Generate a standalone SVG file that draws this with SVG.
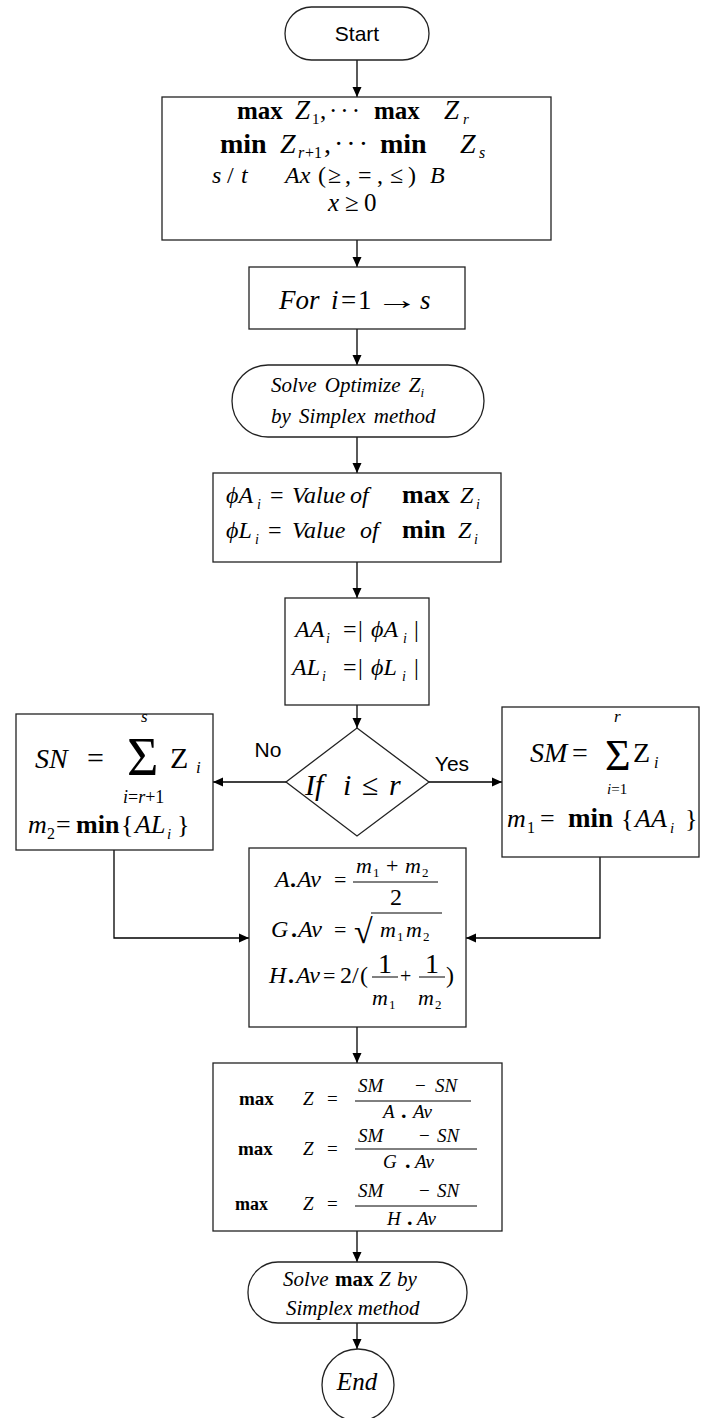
<svg xmlns="http://www.w3.org/2000/svg" width="707" height="1418" viewBox="0 0 707 1418">
<style>
.n{fill:#fff;stroke:#222;stroke-width:1.3}
.c{fill:none;stroke:#000;stroke-width:1.3}
.f{stroke:#000;stroke-width:1}
.m{font-family:"Liberation Serif","Times New Roman",serif;fill:#000}
.i{font-style:italic}
.b{font-weight:bold}
.s{font-family:"Liberation Sans",Arial,sans-serif;fill:#000}
</style>
<defs>
<marker id="ah" markerWidth="10" markerHeight="10" refX="10" refY="5" orient="auto" markerUnits="userSpaceOnUse"><path d="M0,0.5 L10,5 L0,9.5 z" fill="#000"/></marker>
</defs>
<rect width="707" height="1418" fill="#fff"/>
<g id="connectors">
<line class="c" x1="357" y1="60" x2="357" y2="97" marker-end="url(#ah)"/>
<line class="c" x1="357" y1="240" x2="357" y2="267" marker-end="url(#ah)"/>
<line class="c" x1="357" y1="329" x2="357" y2="365" marker-end="url(#ah)"/>
<line class="c" x1="357" y1="437" x2="357" y2="473" marker-end="url(#ah)"/>
<line class="c" x1="357" y1="562" x2="357" y2="598" marker-end="url(#ah)"/>
<line class="c" x1="357" y1="705" x2="357" y2="728" marker-end="url(#ah)"/>
<line class="c" x1="286" y1="782" x2="213" y2="782" marker-end="url(#ah)"/>
<line class="c" x1="429" y1="782" x2="502" y2="782" marker-end="url(#ah)"/>
<polyline class="c" points="114,850 114,938 249,938" marker-end="url(#ah)"/>
<polyline class="c" points="600,857 600,938 466,938" marker-end="url(#ah)"/>
<line class="c" x1="357" y1="1027" x2="357" y2="1063" marker-end="url(#ah)"/>
<line class="c" x1="357" y1="1231" x2="357" y2="1262" marker-end="url(#ah)"/>
<line class="c" x1="357" y1="1323" x2="357" y2="1349" marker-end="url(#ah)"/>
<text class="s" x="268" y="757" font-size="21" text-anchor="middle">No</text>
<text class="s" x="452" y="771" font-size="21" text-anchor="middle">Yes</text>
</g>
<g id="start">
<rect class="n" x="285" y="7" width="144" height="53" rx="26.5"/>
<text class="s" x="357" y="41" font-size="21" text-anchor="middle">Start</text>
</g>
<g id="problem">
<rect class="n" x="162" y="97" width="389" height="143"/>
<text class="m" font-size="25"><tspan x="237" y="119" class="b">max</tspan><tspan x="295" class="i" font-size="27">Z</tspan><tspan x="312" y="124" font-size="15">1</tspan><tspan x="320" y="119">,</tspan><tspan x="329" letter-spacing="3">···</tspan><tspan x="374" class="b">max</tspan><tspan x="444" class="i" font-size="27">Z</tspan><tspan x="463" y="124" class="i" font-size="15">r</tspan><tspan x="220" y="153" class="b" font-size="28">min</tspan><tspan x="280" class="i" font-size="28">Z</tspan><tspan x="298" y="158" class="i" font-size="16">r</tspan><tspan x="305" y="158" font-size="16">+1</tspan><tspan x="324" y="153" font-size="28">,</tspan><tspan x="334" letter-spacing="3" font-size="28">···</tspan><tspan x="380" class="b" font-size="28">min</tspan><tspan x="460" class="i" font-size="28">Z</tspan><tspan x="479" y="158" class="i" font-size="16">s</tspan><tspan x="212" y="183" class="i" font-size="24">s</tspan><tspan x="227" font-size="24">/</tspan><tspan x="241" class="i" font-size="24">t</tspan><tspan x="285" class="i" font-size="24">Ax</tspan><tspan x="318" font-size="24">(</tspan><tspan x="328" font-size="24">≥</tspan><tspan x="345" font-size="24">,</tspan><tspan x="358" font-size="24">=</tspan><tspan x="377" font-size="24">,</tspan><tspan x="390" font-size="24">≤</tspan><tspan x="408" font-size="24">)</tspan><tspan x="430" class="i" font-size="24">B</tspan><tspan x="328" y="211" class="i">x</tspan><tspan x="345">≥</tspan><tspan x="364">0</tspan></text>
</g>
<g id="loop">
<rect class="n" x="249" y="267" width="216" height="62"/>
<text class="m" y="309" font-size="27"><tspan x="279" class="i">For</tspan><tspan x="331" class="i">i</tspan><tspan x="341">=</tspan><tspan x="358">1</tspan><tspan x="420" class="i">s</tspan></text>
<text class="m" font-size="27" transform="translate(375,309) scale(1.6,1)">→</text>
</g>
<g id="solve-opt">
<rect class="n" x="232" y="365" width="252" height="72" rx="36"/>
<text class="m i" font-size="21" word-spacing="3"><tspan x="271" y="392">Solve Optimize Z</tspan><tspan y="397" font-size="13">i</tspan><tspan x="271" y="423">by Simplex method</tspan></text>
</g>
<g id="values">
<rect class="n" x="213" y="473" width="288" height="89"/>
<text class="m" font-size="24"><tspan x="226" y="503" class="i">ϕA</tspan><tspan x="257" y="509" class="i" font-size="14">i</tspan><tspan x="270" y="503">=</tspan><tspan x="292" class="i">Value</tspan><tspan x="350" class="i">of</tspan><tspan x="402" class="b" font-size="26">max</tspan><tspan x="460" class="i">Z</tspan><tspan x="476" y="509" class="i" font-size="14">i</tspan><tspan x="226" y="538" class="i">ϕL</tspan><tspan x="255" y="544" class="i" font-size="14">i</tspan><tspan x="268" y="538">=</tspan><tspan x="292" class="i">Value</tspan><tspan x="360" class="i">of</tspan><tspan x="402" class="b" font-size="26">min</tspan><tspan x="458" class="i">Z</tspan><tspan x="474" y="544" class="i" font-size="14">i</tspan></text>
</g>
<g id="abs">
<rect class="n" x="285" y="598" width="144" height="107"/>
<text class="m" font-size="24"><tspan x="295" y="637" class="i">AA</tspan><tspan x="326" y="643" class="i" font-size="14">i</tspan><tspan x="343" y="637">=</tspan><tspan x="358">|</tspan><tspan x="371" class="i">ϕA</tspan><tspan x="403" y="643" class="i" font-size="14">i</tspan><tspan x="414" y="637">|</tspan><tspan x="292" y="675" class="i">AL</tspan><tspan x="322" y="681" class="i" font-size="14">i</tspan><tspan x="343" y="675">=</tspan><tspan x="358">|</tspan><tspan x="371" class="i">ϕL</tspan><tspan x="402" y="681" class="i" font-size="14">i</tspan><tspan x="414" y="675">|</tspan></text>
</g>
<g id="decision">
<polygon class="n" points="357,728 429,782 357,836 286,782"/>
<text class="m" y="795" font-size="30"><tspan x="305" class="i">If</tspan><tspan x="343" class="i">i</tspan><tspan x="362">≤</tspan><tspan x="389" class="i">r</tspan></text>
</g>
<g id="sn">
<rect class="n" x="16" y="714" width="197" height="136"/>
<text class="m" font-size="28"><tspan x="35" y="768" class="i">SN</tspan><tspan x="87" font-size="30">=</tspan><tspan x="127" y="775" font-size="54">Σ</tspan><tspan x="170" y="768" font-size="30">Z</tspan><tspan x="196" y="773" class="i" font-size="17">i</tspan><tspan x="141" y="722" class="i" font-size="17">s</tspan><tspan x="123" y="803" font-size="18"><tspan class="i">i</tspan>=<tspan class="i">r</tspan>+1</tspan><tspan x="28" y="833" class="i" font-size="26">m</tspan><tspan x="47" y="839" font-size="16">2</tspan><tspan x="56" y="833" font-size="26">=</tspan><tspan x="76" class="b" font-size="26">min</tspan><tspan x="121" font-size="26">{</tspan><tspan x="135" class="i" font-size="26">AL</tspan><tspan x="167" y="839" class="i" font-size="15">i</tspan><tspan x="177" y="833" font-size="26">}</tspan></text>
</g>
<g id="sm">
<rect class="n" x="502" y="707" width="197" height="150"/>
<text class="m" font-size="28"><tspan x="530" y="762" class="i">SM</tspan><tspan x="572">=</tspan><tspan x="605" y="770" font-size="44">Σ</tspan><tspan x="633" y="762">Z</tspan><tspan x="654" y="768" class="i" font-size="16">i</tspan><tspan x="614" y="722" class="i" font-size="17">r</tspan><tspan x="607" y="794" font-size="15"><tspan class="i">i</tspan>=1</tspan><tspan x="507" y="827" class="i" font-size="26">m</tspan><tspan x="527" y="833" font-size="16">1</tspan><tspan x="540" y="827" font-size="26">=</tspan><tspan x="568" class="b" font-size="27">min</tspan><tspan x="621" font-size="26">{</tspan><tspan x="635" class="i" font-size="26">AA</tspan><tspan x="670" y="833" class="i" font-size="15">i</tspan><tspan x="685" y="827" font-size="26">}</tspan></text>
</g>
<g id="averages">
<rect class="n" x="249" y="848" width="217" height="179"/>
<line class="f" x1="353" y1="882" x2="438" y2="882"/>
<line class="f" x1="371" y1="913" x2="442" y2="913"/>
<line class="f" x1="372" y1="977" x2="398" y2="977"/>
<line class="f" x1="419" y1="977" x2="445" y2="977"/>
<text class="m" font-size="24"><tspan x="275" y="887" class="i">A</tspan><tspan x="290" class="b">.</tspan><tspan x="297" class="i">Av</tspan><tspan x="334" font-size="22">=</tspan><tspan x="356" y="873" class="i" font-size="22">m</tspan><tspan x="373" y="877" font-size="13">1</tspan><tspan x="386" y="873" font-size="22">+</tspan><tspan x="405" class="i" font-size="22">m</tspan><tspan x="422" y="877" font-size="13">2</tspan><tspan x="390" y="905">2</tspan><tspan x="271" y="937" class="i">G</tspan><tspan x="291" class="b">.</tspan><tspan x="298" class="i">Av</tspan><tspan x="334" font-size="22">=</tspan><tspan x="354" y="943" font-size="34">√</tspan><tspan x="380" y="937" class="i" font-size="22">m</tspan><tspan x="397" y="941" font-size="13">1</tspan><tspan x="406" y="937" class="i" font-size="22">m</tspan><tspan x="423" y="941" font-size="13">2</tspan><tspan x="269" y="983" class="i">H</tspan><tspan x="288" class="b">.</tspan><tspan x="296" class="i">Av</tspan><tspan x="323" font-size="22">=</tspan><tspan x="340">2</tspan><tspan x="352">/</tspan><tspan x="360">(</tspan><tspan x="400" font-size="20">+</tspan><tspan x="446">)</tspan><tspan x="378" y="973" font-size="28">1</tspan><tspan x="425" font-size="28">1</tspan><tspan x="372" y="1005" class="i" font-size="22">m</tspan><tspan x="389" y="1009" font-size="13">1</tspan><tspan x="418" y="1005" class="i" font-size="22">m</tspan><tspan x="435" y="1009" font-size="13">2</tspan></text>
</g>
<g id="objectives">
<rect class="n" x="213" y="1063" width="289" height="168"/>
<line class="f" x1="355" y1="1101" x2="471" y2="1101"/>
<line class="f" x1="355" y1="1149" x2="477" y2="1149"/>
<line class="f" x1="355" y1="1206" x2="477" y2="1206"/>
<text class="m" font-size="19"><tspan x="239" y="1105" class="b">max</tspan><tspan x="303" class="i">Z</tspan><tspan x="327">=</tspan><tspan x="358" y="1092" class="i">SM</tspan><tspan x="415">−</tspan><tspan x="435" class="i">SN</tspan><tspan x="383" y="1118" class="i">A</tspan><tspan x="401" class="b" font-size="22">.</tspan><tspan x="413" class="i">Av</tspan><tspan x="238" y="1155" class="b">max</tspan><tspan x="303" class="i">Z</tspan><tspan x="327">=</tspan><tspan x="358" y="1142" class="i">SM</tspan><tspan x="419">−</tspan><tspan x="437" class="i">SN</tspan><tspan x="383" y="1168" class="i">G</tspan><tspan x="405" class="b" font-size="22">.</tspan><tspan x="415" class="i">Av</tspan><tspan x="235" y="1210" class="b" font-size="18">max</tspan><tspan x="303" class="i">Z</tspan><tspan x="327">=</tspan><tspan x="358" y="1197" class="i">SM</tspan><tspan x="419">−</tspan><tspan x="437" class="i">SN</tspan><tspan x="387" y="1225" class="i">H</tspan><tspan x="407" class="b" font-size="22">.</tspan><tspan x="417" class="i">Av</tspan></text>
</g>
<g id="solve-max">
<rect class="n" x="248" y="1262" width="219" height="61" rx="30"/>
<text class="m" font-size="21"><tspan x="283" y="1286" class="i">Solve</tspan><tspan x="335" class="b">max</tspan><tspan x="379" class="i">Z</tspan><tspan x="397" class="i">by</tspan><tspan x="286" y="1315" class="i">Simplex method</tspan></text>
</g>
<g id="end">
<circle class="n" cx="358" cy="1385" r="36"/>
<text class="m i" x="357" y="1390" font-size="25" text-anchor="middle">End</text>
</g>
</svg>
